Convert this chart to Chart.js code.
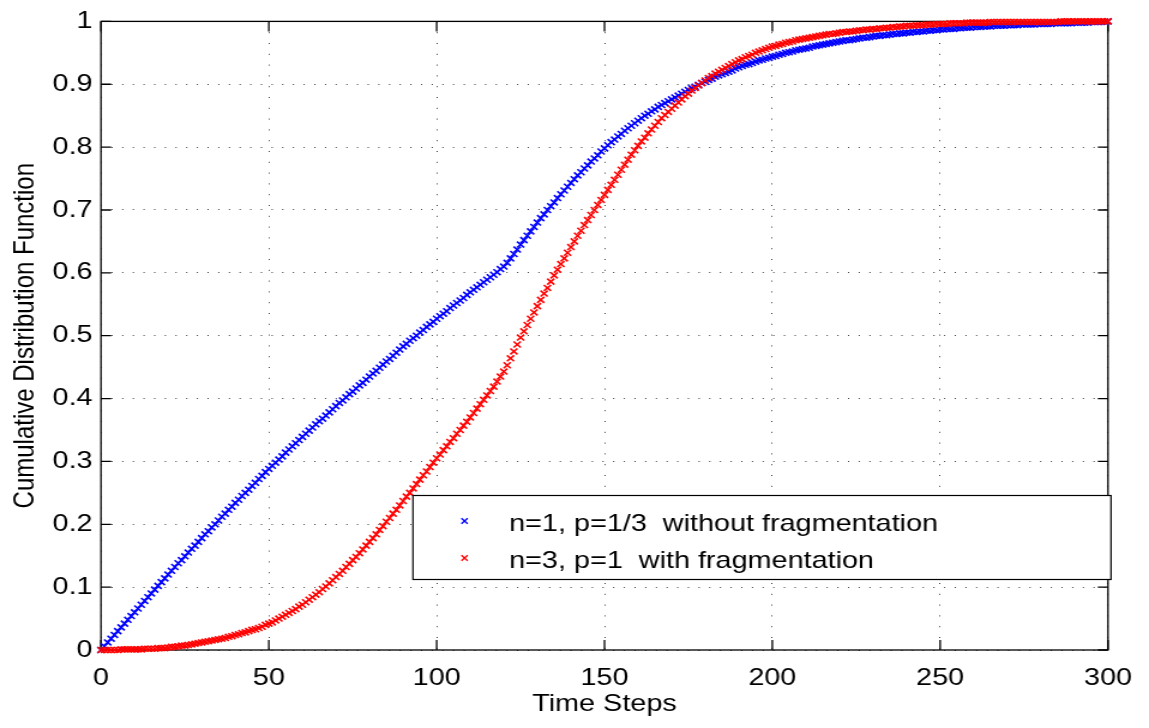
<!DOCTYPE html>
<html>
<head>
<meta charset="utf-8">
<script src="https://cdn.jsdelivr.net/npm/chart.js@4.4.1/dist/chart.umd.min.js"></script>
<style>
  html, body { margin: 0; padding: 0; background: #fff; }
  #cdf { display: block; }
</style>
</head>
<body>
<!-- drawn at 958px wide and stretched to 1149px, like the original export -->
<canvas id="cdf" width="958" height="728" style="width:1149px;height:728px"></canvas>
<script>
const seriesLabels = ['n=1, p=1/3  without fragmentation', 'n=3, p=1  with fragmentation'];
const xTickLabels = ['0', '50', '100', '150', '200', '250', '300'];
const yTickLabels = ['0', '0.1', '0.2', '0.3', '0.4', '0.5', '0.6', '0.7', '0.8', '0.9', '1'];

// CDF per time step 0..300
const blueCdf = [
  0, 0.006, 0.012, 0.018, 0.024, 0.030, 0.036, 0.042, 0.048, 0.054, 0.060,
  0.066, 0.072, 0.078, 0.084, 0.090, 0.096, 0.102, 0.108, 0.114, 0.120,
  0.126, 0.132, 0.138, 0.143, 0.149, 0.155, 0.161, 0.166, 0.172, 0.178,
  0.184, 0.189, 0.195, 0.200, 0.206, 0.212, 0.217, 0.223, 0.228, 0.234,
  0.239, 0.245, 0.250, 0.255, 0.261, 0.266, 0.272, 0.277, 0.283, 0.288,
  0.293, 0.298, 0.303, 0.308, 0.314, 0.319, 0.324, 0.329, 0.334, 0.339,
  0.344, 0.349, 0.354, 0.359, 0.364, 0.368, 0.373, 0.378, 0.383, 0.388,
  0.393, 0.397, 0.402, 0.407, 0.411, 0.416, 0.421, 0.425, 0.430, 0.435,
  0.440, 0.444, 0.449, 0.454, 0.459, 0.463, 0.468, 0.473, 0.478, 0.483,
  0.487, 0.492, 0.496, 0.500, 0.505, 0.509, 0.514, 0.518, 0.522, 0.527,
  0.531, 0.535, 0.539, 0.544, 0.548, 0.552, 0.556, 0.560, 0.565, 0.569,
  0.573, 0.577, 0.581, 0.585, 0.589, 0.593, 0.597, 0.601, 0.606, 0.610,
  0.616, 0.623, 0.630, 0.637, 0.645, 0.652, 0.659, 0.666, 0.673, 0.680,
  0.687, 0.693, 0.700, 0.706, 0.712, 0.719, 0.725, 0.731, 0.737, 0.743,
  0.749, 0.755, 0.760, 0.766, 0.771, 0.777, 0.782, 0.787, 0.793, 0.798,
  0.803, 0.808, 0.812, 0.817, 0.821, 0.826, 0.830, 0.834, 0.838, 0.842,
  0.846, 0.850, 0.853, 0.857, 0.860, 0.864, 0.867, 0.870, 0.873, 0.876,
  0.879, 0.882, 0.885, 0.888, 0.891, 0.894, 0.896, 0.899, 0.902, 0.904,
  0.907, 0.909, 0.912, 0.914, 0.916, 0.918, 0.920, 0.922, 0.925, 0.927,
  0.929, 0.931, 0.932, 0.934, 0.936, 0.938, 0.939, 0.941, 0.942, 0.944,
  0.945, 0.947, 0.948, 0.950, 0.951, 0.952, 0.954, 0.955, 0.956, 0.957,
  0.958, 0.960, 0.961, 0.962, 0.963, 0.964, 0.965, 0.966, 0.967, 0.968,
  0.969, 0.970, 0.970, 0.971, 0.972, 0.973, 0.974, 0.974, 0.975, 0.976,
  0.977, 0.977, 0.978, 0.978, 0.979, 0.980, 0.980, 0.981, 0.981, 0.982,
  0.982, 0.983, 0.983, 0.984, 0.984, 0.985, 0.985, 0.986, 0.986, 0.987,
  0.987, 0.988, 0.988, 0.988, 0.989, 0.989, 0.990, 0.990, 0.990, 0.991,
  0.991, 0.991, 0.992, 0.992, 0.992, 0.993, 0.993, 0.993, 0.993, 0.994,
  0.994, 0.994, 0.994, 0.995, 0.995, 0.995, 0.995, 0.995, 0.996, 0.996,
  0.996, 0.996, 0.996, 0.997, 0.997, 0.997, 0.997, 0.997, 0.997, 0.998,
  0.998, 0.998, 0.998, 0.998, 0.999, 0.999, 0.999, 0.999, 0.999, 1.000
];

const redCdf = [
  0, 0, 0, 0, 0, 0, 0.001, 0.001, 0.001, 0.001, 0.001,
  0.001, 0.001, 0.002, 0.002, 0.002, 0.002, 0.003, 0.003, 0.003, 0.004,
  0.005, 0.005, 0.006, 0.007, 0.007, 0.008, 0.009, 0.010, 0.011, 0.012,
  0.013, 0.014, 0.015, 0.016, 0.017, 0.018, 0.019, 0.021, 0.022, 0.024,
  0.025, 0.027, 0.028, 0.030, 0.032, 0.033, 0.035, 0.037, 0.040, 0.042,
  0.044, 0.047, 0.050, 0.053, 0.056, 0.059, 0.062, 0.065, 0.069, 0.072,
  0.076, 0.080, 0.084, 0.088, 0.092, 0.097, 0.101, 0.106, 0.111, 0.116,
  0.121, 0.126, 0.132, 0.137, 0.143, 0.148, 0.154, 0.160, 0.166, 0.172,
  0.178, 0.184, 0.191, 0.197, 0.204, 0.210, 0.217, 0.223, 0.230, 0.237,
  0.244, 0.250, 0.257, 0.264, 0.271, 0.278, 0.284, 0.291, 0.298, 0.305,
  0.311, 0.318, 0.324, 0.331, 0.337, 0.344, 0.350, 0.357, 0.363, 0.370,
  0.377, 0.384, 0.391, 0.398, 0.405, 0.412, 0.419, 0.427, 0.435, 0.443,
  0.453, 0.464, 0.475, 0.486, 0.497, 0.507, 0.517, 0.527, 0.537, 0.547,
  0.557, 0.567, 0.576, 0.586, 0.596, 0.605, 0.614, 0.623, 0.632, 0.641,
  0.650, 0.659, 0.667, 0.676, 0.684, 0.692, 0.700, 0.708, 0.716, 0.724,
  0.732, 0.740, 0.748, 0.756, 0.764, 0.772, 0.780, 0.788, 0.795, 0.802,
  0.809, 0.815, 0.822, 0.828, 0.834, 0.840, 0.846, 0.851, 0.856, 0.861,
  0.866, 0.871, 0.876, 0.881, 0.885, 0.890, 0.894, 0.898, 0.902, 0.906,
  0.910, 0.913, 0.917, 0.920, 0.923, 0.926, 0.929, 0.932, 0.935, 0.938,
  0.940, 0.943, 0.945, 0.947, 0.950, 0.952, 0.954, 0.956, 0.958, 0.960,
  0.961, 0.963, 0.964, 0.966, 0.967, 0.968, 0.970, 0.971, 0.972, 0.973,
  0.974, 0.975, 0.976, 0.977, 0.978, 0.979, 0.980, 0.980, 0.981, 0.982,
  0.983, 0.983, 0.984, 0.984, 0.985, 0.986, 0.986, 0.987, 0.987, 0.988,
  0.988, 0.989, 0.989, 0.990, 0.990, 0.991, 0.991, 0.992, 0.992, 0.993,
  0.993, 0.993, 0.994, 0.994, 0.994, 0.995, 0.995, 0.995, 0.996, 0.996,
  0.996, 0.996, 0.997, 0.997, 0.997, 0.997, 0.997, 0.998, 0.998, 0.998,
  0.998, 0.998, 0.998, 0.998, 0.999, 0.999, 0.999, 0.999, 0.999, 0.999,
  0.999, 0.999, 0.999, 0.999, 0.999, 0.999, 0.999, 0.999, 0.999, 0.999,
  0.999, 0.999, 0.999, 0.999, 0.999, 1, 1, 1, 1, 1,
  1, 1, 1, 1, 1, 1, 1, 1, 1, 1
];

const timeSteps = blueCdf.map((v, i) => i);
const colors = ['#0000ff', '#ff0000'];
const font = { family: "'Liberation Sans', Arial, Helvetica, sans-serif", size: 24 };

// box round the axes with inward ticks, matlab style
const axesBox = {
  id: 'axesBox',
  beforeDatasetsDraw(chart) {
    const { ctx, chartArea: a, scales } = chart;
    ctx.save();
    ctx.strokeStyle = '#000';
    ctx.lineWidth = 1.3;
    ctx.strokeRect(a.left, a.top, a.right - a.left, a.bottom - a.top);
    ctx.beginPath();
    scales.x.ticks.forEach(t => {
      const px = scales.x.getPixelForValue(t.value);
      ctx.moveTo(px, a.bottom); ctx.lineTo(px, a.bottom - 10);
      ctx.moveTo(px, a.top); ctx.lineTo(px, a.top + 10);
    });
    scales.y.ticks.forEach(t => {
      const py = scales.y.getPixelForValue(t.value);
      ctx.moveTo(a.left, py); ctx.lineTo(a.left + 8.5, py);
      ctx.moveTo(a.right, py); ctx.lineTo(a.right - 8.5, py);
    });
    ctx.stroke();
    ctx.restore();
  }
};

// legend box in the lower right corner
const boxLegend = {
  id: 'boxLegend',
  afterDraw(chart) {
    const ctx = chart.ctx;
    const left = 344.3, top = 495.5, right = 926.3, bottom = 579.5;
    const rows = [521, 558];
    const mx = 387.3;
    ctx.save();
    ctx.fillStyle = '#fff';
    ctx.fillRect(left, top, right - left, bottom - top);
    ctx.strokeStyle = '#000';
    ctx.lineWidth = 1.2;
    ctx.strokeRect(left, top, right - left, bottom - top);
    chart.data.datasets.forEach((ds, i) => {
      const cy = rows[i];
      ctx.strokeStyle = ds.borderColor;
      ctx.lineWidth = 1.3;
      ctx.beginPath();
      ctx.moveTo(mx - 2.6, cy - 2.8); ctx.lineTo(mx + 2.6, cy + 2.8);
      ctx.moveTo(mx - 2.6, cy + 2.8); ctx.lineTo(mx + 2.6, cy - 2.8);
      ctx.stroke();
      ctx.fillStyle = '#000';
      ctx.font = `${font.size}px ${font.family}`;
      ctx.textBaseline = 'alphabetic';
      ctx.fillText(ds.label, 424.5, cy + 10);
    });
    ctx.restore();
  }
};

const datasets = [blueCdf, redCdf].map((vals, i) => ({
  label: seriesLabels[i],
  data: vals.map((v, k) => ({ x: timeSteps[k], y: v })),
  showLine: false,
  borderColor: colors[i],
  backgroundColor: colors[i],
  pointStyle: 'crossRot',
  pointRadius: 4.2,
  pointBorderWidth: 1.6,
  clip: false,
  order: i === 0 ? 1 : 0
}));

const config = {
  type: 'scatter',
  data: { datasets: datasets },
  options: {
    responsive: false,
    animation: false,
    devicePixelRatio: 1,
    events: [],
    layout: { padding: { left: 0, top: 21, right: 34.2, bottom: 0 } },
    plugins: {
      legend: { display: false },
      tooltip: { enabled: false }
    },
    scales: {
      x: {
        type: 'linear',
        min: 0,
        max: 300,
        afterFit: s => { s.height = 78; },
        grid: {
          color: 'rgba(0,0,0,0.75)',
          lineWidth: 1,
          drawTicks: false
        },
        border: { display: false, dash: [1, 9.8] },
        ticks: {
          stepSize: 50,
          autoSkip: false,
          maxRotation: 0,
          padding: 14,
          color: '#000',
          font: font,
          callback: (v, i) => xTickLabels[i]
        },
        title: {
          display: true,
          text: 'Time Steps',
          color: '#000',
          font: font,
          padding: { top: 0, bottom: 9.6 }
        }
      },
      y: {
        min: 0,
        max: 1,
        afterFit: s => { s.width = 84.2; },
        grid: {
          color: 'rgba(0,0,0,0.75)',
          lineWidth: 1,
          drawTicks: false
        },
        border: { display: false, dash: [1, 7.9] },
        ticks: {
          stepSize: 0.1,
          padding: 7,
          color: '#000',
          font: font,
          callback: (v, i) => yTickLabels[i]
        },
        title: {
          display: true,
          text: 'Cumulative Distribution Function',
          color: '#000',
          font: font,
          padding: { top: 7.3, bottom: 0 }
        }
      }
    }
  },
  plugins: [axesBox, boxLegend]
};

const cdfChart = new Chart(document.getElementById('cdf'), config);
</script>
</body>
</html>
